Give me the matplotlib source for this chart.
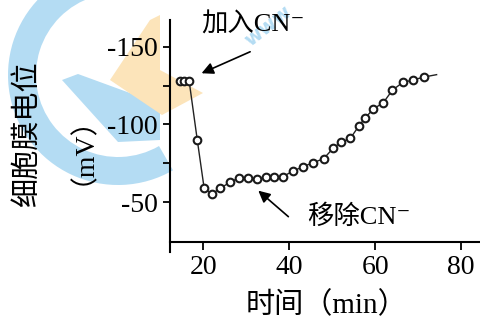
import matplotlib.pyplot as plt
from matplotlib.patches import Wedge, Polygon

plt.rcParams['font.family'] = ['Liberation Serif', 'Noto Sans CJK SC', 'DejaVu Sans']

# 时间 (min) 与细胞膜电位 (mV)
time_min = [14.6, 15.6, 16.7, 18.6, 20.2, 22.0, 24.0, 26.2, 28.2, 30.5, 32.5,
            34.5, 36.5, 38.5, 40.8, 43.3, 45.6, 48.0, 50.3, 52.0, 54.2, 56.2,
            57.6, 59.6, 61.9, 64.0, 66.4, 68.7, 71.4, 74.3]
potential = [-128, -128, -128, -90, -59, -55.5, -59, -63, -65.5, -65.5, -65,
             -66, -66.5, -66.5, -70, -73, -75.5, -78, -85, -88.5, -91, -99,
             -104, -110, -114, -122, -127, -128.5, -130.5, -132]

y_ticks = [-150, -125, -100, -75, -50]
y_labels = ['-150', '', '-100', '', '-50']
x_ticks = [20, 40, 60, 80]
x_labels = ['20', '40', '60', '80']

W, H = 481, 320
fig = plt.figure(figsize=(W / 100, H / 100), dpi=100)


# 背景水印 (像素坐标, 原点在左上)
def px(pts):
    return [(x / 100, (H - y) / 100) for x, y in pts]


blue = '#b4dcf3'
orange = '#fce4ba'
tr = fig.dpi_scale_trans
fig.add_artist(Wedge((1.18, (H - 75) / 100), 1.10, 80, 300, width=0.28,
                     facecolor=blue, edgecolor='none', transform=tr, zorder=-2))
fig.add_artist(Polygon(px([(62, 80), (78, 74), (160, 104), (160, 140), (118, 142)]),
                       facecolor=blue, edgecolor='none', transform=tr, zorder=-2))
fig.add_artist(Polygon(px([(110, 80), (150, 20), (160, 15), (160, 70), (203, 93), (162, 115)]),
                       facecolor=orange, edgecolor='none', transform=tr, zorder=-1))
fig.text(268 / W, 1 - 26 / H, 'www', color=blue, fontsize=14, fontweight='bold',
         rotation=38, ha='center', va='center', family='DejaVu Sans', zorder=-1)

ax = fig.add_axes([170 / W, 1 - 251.7 / H, 310 / W, 231.7 / H])
ax.set_facecolor('none')

ax.plot(time_min, potential, color='#222222', lw=1.0, zorder=2)
ax.plot(time_min[:-1], potential[:-1], 'o', ms=5.5, mfc='white', mec='#1a1a1a',
        mew=1.5, zorder=3)

ax.set_xlim(12.25, 84.4)
ax.set_ylim(-18.3, -167.1)

for s in ['top', 'right']:
    ax.spines[s].set_visible(False)
ax.spines['bottom'].set_position(('data', -24.3))
ax.spines['left'].set_linewidth(1.5)
ax.spines['bottom'].set_linewidth(1.5)

ax.set_yticks(y_ticks)
ax.set_yticklabels(y_labels)
ax.set_xticks(x_ticks)
ax.set_xticklabels(x_labels)
ax.tick_params(axis='both', direction='out', width=1.3, labelsize=20)
ax.tick_params(axis='y', length=5, pad=4)
ax.tick_params(axis='x', length=6, pad=3)

# 标注
arrow = dict(arrowstyle='-|>,head_length=0.5,head_width=0.25', color='black',
             lw=1.2, mutation_scale=14, shrinkA=0, shrinkB=0)
ax.text(19.6, -163.9, '加入CN⁻', fontsize=19, ha='left', va='center')
ax.annotate('', xy=(19.6, -132.9), xytext=(30.9, -146.7), arrowprops=arrow)
ax.text(44.1, -40.8, '移除CN⁻', fontsize=19, ha='left', va='center')
ax.annotate('', xy=(32.8, -57.5), xytext=(39.8, -40.8), arrowprops=arrow)

# 坐标轴标题
fig.text(27 / W, 1 - 134 / H, '细胞膜电位', rotation=90, fontsize=21,
         ha='center', va='center')
fig.text(69 / W, 1 - 136 / H, '（mV）', rotation=90, fontsize=20,
         ha='center', va='center')
fig.text(327 / W, 1 - 305 / H, '时间（min）', fontsize=21, ha='center', va='center')

fig.savefig('out.png', dpi=100)
